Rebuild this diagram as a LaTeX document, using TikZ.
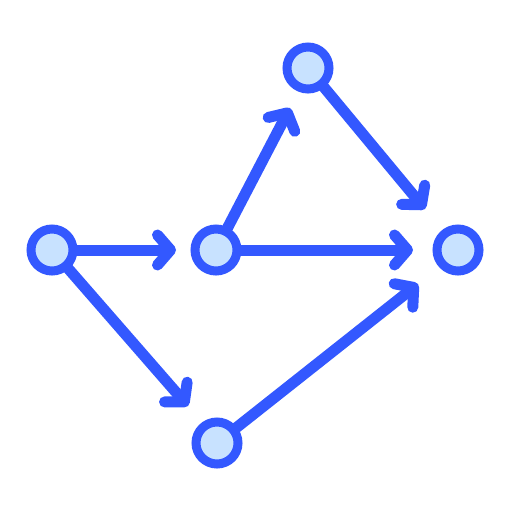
\documentclass[tikz,border=0pt]{standalone}
\usetikzlibrary{arrows.meta}
\definecolor{edgeblue}{HTML}{3358FF}
\definecolor{fillblue}{HTML}{C8E2FF}
\tikzset{
  vert/.style={circle,draw=edgeblue,fill=fillblue,line width=9pt,minimum size=42pt,inner sep=0pt},
  conn/.style={draw=edgeblue,line width=11pt,line cap=round,-{Straight Barb[length=13pt,width=30pt,round]}}
}
\begin{document}
\begin{tikzpicture}[x=1pt,y=-1pt]
\useasboundingbox (0,0) rectangle (512,512);
\coordinate (A0) at (52,250);
\coordinate (B0) at (216,250);
\coordinate (C0) at (308,68);
\coordinate (D0) at (458,250);
\coordinate (E0) at (217,443);
\coordinate (tAB) at (176,250);
\coordinate (tAE) at (188,406);
\coordinate (tBC) at (290,108);
\coordinate (tBD) at (413,250);
\coordinate (tCD) at (425,209);
\coordinate (tED) at (418,284);
\draw[conn] (A0) -- (tAB);
\draw[conn] (A0) -- (tAE);
\draw[conn] (B0) -- (tBC);
\draw[conn] (B0) -- (tBD);
\draw[conn] (C0) -- (tCD);
\draw[conn] (E0) -- (tED);
\node[vert,line width=9pt] (A) at (A0) {};
\node[vert] (B) at (B0) {};
\node[vert] (C) at (C0) {};
\node[vert] (D) at (D0) {};
\node[vert] (E) at (E0) {};
\end{tikzpicture}
\end{document}
